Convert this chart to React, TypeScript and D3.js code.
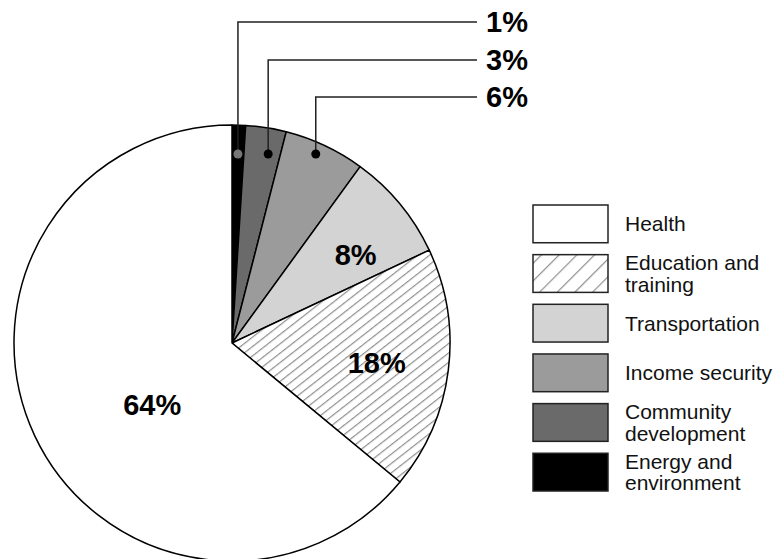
import { useEffect, useRef } from 'react';
import * as d3 from 'd3';

// Budget shares, legend order (top to bottom)
const categories = [
  'Health',
  'Education and training',
  'Transportation',
  'Income security',
  'Community development',
  'Energy and environment',
];
const legendLines = [
  ['Health'],
  ['Education and', 'training'],
  ['Transportation'],
  ['Income security'],
  ['Community', 'development'],
  ['Energy and', 'environment'],
];
const values = [64, 18, 8, 6, 3, 1];
const fills = ['#ffffff', 'url(#hatch)', '#d3d3d3', '#9b9b9b', '#6a6a6a', '#000000'];
const legendFills = ['#ffffff', 'url(#hatchLegend)', '#d3d3d3', '#9b9b9b', '#6a6a6a', '#000000'];

const FONT = "'Liberation Sans', Arial, Helvetica, sans-serif";

const App = () => {
  const ref = useRef<SVGSVGElement | null>(null);

  useEffect(() => {
    if (!ref.current) return;
    const svg = d3.select(ref.current);
    svg.selectAll('*').remove();

    const width = 778;
    const height = 559;
    const cx = 232;
    const cy = 343;
    const radius = 218;

    svg.attr('width', width).attr('height', height);

    // Hatch patterns
    const defs = svg.append('defs');
    const hatch = defs.append('pattern')
      .attr('id', 'hatch')
      .attr('patternUnits', 'userSpaceOnUse')
      .attr('width', 20)
      .attr('height', 7.4)
      .attr('patternTransform', 'rotate(-38)');
    hatch.append('rect').attr('width', 20).attr('height', 7.4).attr('fill', '#fff');
    hatch.append('line')
      .attr('x1', 0).attr('y1', 0.6).attr('x2', 20).attr('y2', 0.6)
      .attr('stroke', '#8f8f8f').attr('stroke-width', 1.2);

    const hatchL = defs.append('pattern')
      .attr('id', 'hatchLegend')
      .attr('patternUnits', 'userSpaceOnUse')
      .attr('width', 20)
      .attr('height', 12.5)
      .attr('patternTransform', 'rotate(-45)');
    hatchL.append('rect').attr('width', 20).attr('height', 12.5).attr('fill', '#fff');
    hatchL.append('line')
      .attr('x1', 0).attr('y1', 0.6).attr('x2', 20).attr('y2', 0.6)
      .attr('stroke', '#8f8f8f').attr('stroke-width', 1.2);

    // Pie: clockwise from 12 o'clock, smallest first
    const order = d3.range(values.length).reverse();
    const pie = d3.pie<number>()
      .sort(null)
      .value((i) => values[i]);
    const arcs = pie(order);

    const arc = d3.arc<d3.PieArcDatum<number>>()
      .innerRadius(0)
      .outerRadius(radius);

    const g = svg.append('g').attr('transform', `translate(${cx},${cy})`);

    g.selectAll('path.slice')
      .data(arcs)
      .enter()
      .append('path')
      .attr('class', 'slice')
      .attr('d', arc as any)
      .attr('fill', (d) => fills[d.data])
      .attr('stroke', '#000')
      .attr('stroke-width', 1.5)
      .attr('stroke-linejoin', 'round');

    // Inside labels for the big slices
    const insideLabel: Record<number, { r: number; da: number }> = {
      0: { r: 101, da: -0.22 },
      1: { r: 146, da: 0.01 },
      2: { r: 152, da: 0.07 },
    };
    arcs.forEach((d) => {
      const cfg = insideLabel[d.data];
      if (!cfg) return;
      const a = (d.startAngle + d.endAngle) / 2 + cfg.da;
      g.append('text')
        .attr('x', Math.sin(a) * cfg.r)
        .attr('y', -Math.cos(a) * cfg.r)
        .attr('text-anchor', 'middle')
        .attr('dy', '0.36em')
        .attr('font-family', FONT)
        .attr('font-weight', 'bold')
        .attr('font-size', 29)
        .text(`${values[d.data]}%`);
    });

    // Callouts for the three smallest slices
    const callout: Record<number, { t: number; y: number; dot: string }> = {
      5: { t: 0.5, y: 22, dot: '#777' },
      4: { t: 0.67, y: 60, dot: '#000' },
      3: { t: 0.44, y: 97, dot: '#000' },
    };
    const dotY = 154;
    const lineEnd = 477;
    arcs.forEach((d) => {
      const cfg = callout[d.data];
      if (!cfg) return;
      const a = d.startAngle + (d.endAngle - d.startAngle) * cfg.t;
      const dx = cx + (cy - dotY) * Math.tan(a);
      svg.append('path')
        .attr('d', `M${dx},${dotY}V${cfg.y}H${lineEnd}`)
        .attr('fill', 'none')
        .attr('stroke', '#222')
        .attr('stroke-width', 1.5);
      svg.append('circle')
        .attr('cx', dx)
        .attr('cy', dotY)
        .attr('r', 4.5)
        .attr('fill', cfg.dot);
      svg.append('text')
        .attr('x', lineEnd + 9)
        .attr('y', cfg.y)
        .attr('dy', '0.36em')
        .attr('font-family', FONT)
        .attr('font-weight', 'bold')
        .attr('font-size', 29)
        .text(`${values[d.data]}%`);
    });

    // Legend
    const legendY = d3.scaleBand<number>()
      .domain(d3.range(categories.length))
      .range([205, 491])
      .paddingInner(0.24)
      .paddingOuter(0);
    const legend = svg.append('g');
    categories.forEach((_, i) => {
      const y = legendY(i) as number;
      const h = legendY.bandwidth();
      legend.append('rect')
        .attr('x', 533)
        .attr('y', y)
        .attr('width', 75)
        .attr('height', h)
        .attr('fill', legendFills[i])
        .attr('stroke', '#222')
        .attr('stroke-width', 1.5);
      const lines = legendLines[i];
      const lh = 21.5;
      const mid = y + h / 2;
      const txt = legend.append('text')
        .attr('font-family', FONT)
        .attr('font-size', 21)
        .attr('fill', '#111');
      lines.forEach((ln, k) => {
        txt.append('tspan')
          .attr('x', 625)
          .attr('y', mid + (k - (lines.length - 1) / 2) * lh)
          .attr('dy', '0.36em')
          .text(ln);
      });
    });
  }, []);

  return (
    <svg
      ref={ref}
      style={{ position: 'absolute', left: 0, top: 0, background: '#fff' }}
    ></svg>
  );
};

export default App;
